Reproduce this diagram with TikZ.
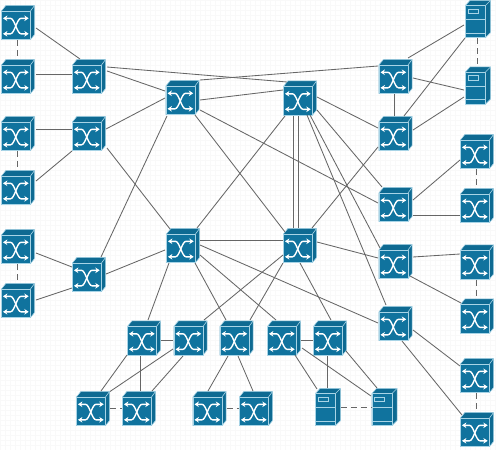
\documentclass[tikz,border=0pt]{standalone}
\usetikzlibrary{arrows.meta}
\definecolor{bluef}{HTML}{10739E}
\definecolor{blued}{HTML}{0E6A92}
\definecolor{edgel}{HTML}{A8D4E6}
\definecolor{wire}{HTML}{666666}
\definecolor{gridc}{HTML}{F9F9F9}
\tikzset{
  x=1pt,y=-1pt,
  switchbox/.style={rectangle,inner sep=0pt,outer sep=0pt,minimum width=34pt,minimum height=35pt},
  serverbox/.style={rectangle,inner sep=0pt,outer sep=0pt,minimum width=26pt,minimum height=38pt},
  facetop/.style={blued,draw=edgel,line width=.6pt,line join=round},
  facefront/.style={bluef,draw=edgel,line width=.6pt,line join=round},
  edgeline/.style={edgel,line width=.6pt},
  crossing/.style={white,line width=1.4pt,{Stealth[length=4.4pt,width=5.6pt]}-{Stealth[length=4.4pt,width=5.6pt]}},
  pics/switchicon/.style={code={
    \begin{scope}[shift={(-17,-17.5)}]
      \fill[facetop] (.4,6) -- (4.9,.4) -- (33.6,.4) -- (33.6,29.5) -- (29.5,34.6) -- (.4,34.6) -- cycle;
      \fill[facefront] (.4,6) rectangle (29.5,34.6);
      \draw[edgeline] (29.5,6) -- (33.6,.4);
      \draw[crossing] (2,13.3) -- (9.5,13.3) .. controls (13.5,13.3) and (16,28.8) .. (20,28.8) -- (27.7,28.8);
      \draw[crossing] (27.7,13.3) -- (20,13.3) .. controls (16,13.3) and (13.5,28.8) .. (9.5,28.8) -- (2,28.8);
    \end{scope}}},
  pics/servericon/.style={code={
    \begin{scope}[shift={(-13,-19)}]
      \fill[facetop] (.4,5.5) -- (5,.4) -- (25.6,.4) -- (25.6,32.5) -- (20.5,37.6) -- (.4,37.6) -- cycle;
      \fill[facefront] (.4,5.5) rectangle (20.5,37.6);
      \draw[edgeline] (20.5,5.5) -- (25.6,.4);
      \draw[edgeline] (3,9) rectangle (13,13.5);
      \draw[edgeline] (.4,19.5) -- (20.5,19.5) (.4,33) -- (20.5,33);
    \end{scope}}},
  link/.style={wire,line width=.85pt},
  dashlink/.style={wire,line width=.85pt,dash pattern=on 6pt off 4pt}
}
\begin{document}
\begin{tikzpicture}
\useasboundingbox (0,0) rectangle (496,450);
\draw[gridc,line width=.4pt,step=5pt] (0,0) grid (496,450);
\foreach \n/\px/\py in {s1/18/22.5,s2/18/76.5,s3/18/133.5,s4/18/187.5,s5/18/246.5,s6/18/300.5,
  a1/89/76.5,a2/89/133.5,a3/89/274.5,
  c1/182.5/97.5,c2/300/98,c3/183/245.5,c4/300/245.5,
  r1/395.5/76.5,r2/395.5/133.5,r3/395.5/204.5,r4/395.5/261.5,r5/395.5/323.5,
  f1/477/151.5,f2/477/205.5,f3/477/262,f4/477/316,f5/477/375.5,f6/477/429.5,
  b1/144/338,b2/190.5/338,b3/236.5/338,b4/284/338,b5/330/338,
  d1/93/408.5,d2/139/408.5,d3/209.5/408.5,d4/256/408.5}
  {\pic at (\px,\py) {switchicon}; \node[switchbox] (\n) at (\px,\py) {};}
\foreach \n/\px/\py in {v1/478/19,v2/478/85.5,v3/328/407,v4/384.5/407}
  {\pic at (\px,\py) {servericon}; \node[serverbox] (\n) at (\px,\py) {};}
\foreach \p/\ax/\ay/\q/\bx/\by in {
  s1/18/5.5/a1/-9/-17.5, s2/18/-2.5/a1/-17/-2.5, s3/18/-4.5/a2/-17/-4.5, s4/18/-6.5/a2/-17/17.5,
  s5/18/6.5/a3/-17/-7.5, s6/18/-0.5/a3/-17/13.5,
  a1/18/-9.5/c2/-13/-16, a1/18/-5.5/c1/-17.5/-6.5, a2/17/-4.5/c1/-17.5/0.5, a2/18/14.5/c3/-13/-16.5,
  a3/12/-17.5/c1/-15.5/18.5, a3/17/-0.5/c3/-18/4.5,
  c1/12.5/17.5/c4/-15/-13.5, c2/-15/18/c3/14/-17.5, c1/17.5/2.5/c2/-17/-8, c1/17.5/-17.5/r1/-17.5/-10.5,
  c1/17.5/12.5/r3/-17.5/-1.5, c2/17/-1/r2/-17.5/-5.5, c2/17/12/r3/-13.5/-17.5, c2/10/17/r4/-15.5/-13.5,
  c2/7/17/r5/-9.5/-18.5, c4/12/-17.5/r2/-17.5/13.5, c4/17/-3.5/r4/-17.5/-3.5,
  c4/0/17.5/b5/1/-18, c4/-17/9.5/b2/13.5/-18, c4/-17/17.5/b3/13.5/-18,
  c3/17/-5.5/c4/-17/-5.5, c3/-14/17.5/b1/4/-18, c3/12/17.5/b3/-10.5/-18, c3/17/9.5/b4/-8/-18,
  c3/17/-0.5/r5/-17.5/-0.5,
  b1/17/2/b2/-17.5/2, b4/17/2/b5/-17/2, b1/-17/17/d1/8/-17.5, b2/-17.5/11/d1/17/-17,
  b2/-7.5/18/d2/13/-17.5, b1/-4/18/d2/1/-17.5, b3/-8.5/18/d3/-1.5/-17.5, b3/1.5/18/d4/-3/-17.5,
  b4/11/17/v3/-11/-18, b4/18/10/v4/-13.5/-11, b5/16/13/v4/-7.5/-19, b5/-3/18/v3/-1/-19,
  r1/12.5/-18.5/v1/-14/6, r2/8.5/-17.5/v1/-13/19, r1/17.5/1.5/v2/-14/4.5, r2/17.5/-3.5/v2/-14/11.5,
  r3/17.5/-4.5/f1/-17/8.5, r3/17.5/10.5/f2/-17/9.5, r4/17.5/-4.5/f3/-17/-8, r4/14.5/14.5/f4/-16/-13,
  r5/17.5/6.5/f5/-17/-9.5, r5/6.5/17.5/f6/-15/-14.5,
  r1/-1.5/17.5/r2/-1.5/-17.5, c2/-7/18/c4/-7/-17.5, c2/-2/18/c4/-2/-17.5}
  {\draw[link] ([shift={(\ax,\ay)}]\p.center) -- ([shift={(\bx,\by)}]\q.center);}
\foreach \p/\q in {s1/s2,s3/s4,s5/s6}
  {\draw[dashlink] ([xshift=-1pt]\p.south) -- ([xshift=-1pt]\q.north);}
\foreach \p/\q in {f1/f2,f3/f4,f5/f6,v1/v2}
  {\draw[dashlink] ([xshift=-1pt]\p.south) -- ([xshift=-1pt]\q.north);}
\foreach \p/\q in {d1/d2,d3/d4,v3/v4}
  {\draw[dashlink] (\p.east) -- (\q.west);}
\end{tikzpicture}
\end{document}
